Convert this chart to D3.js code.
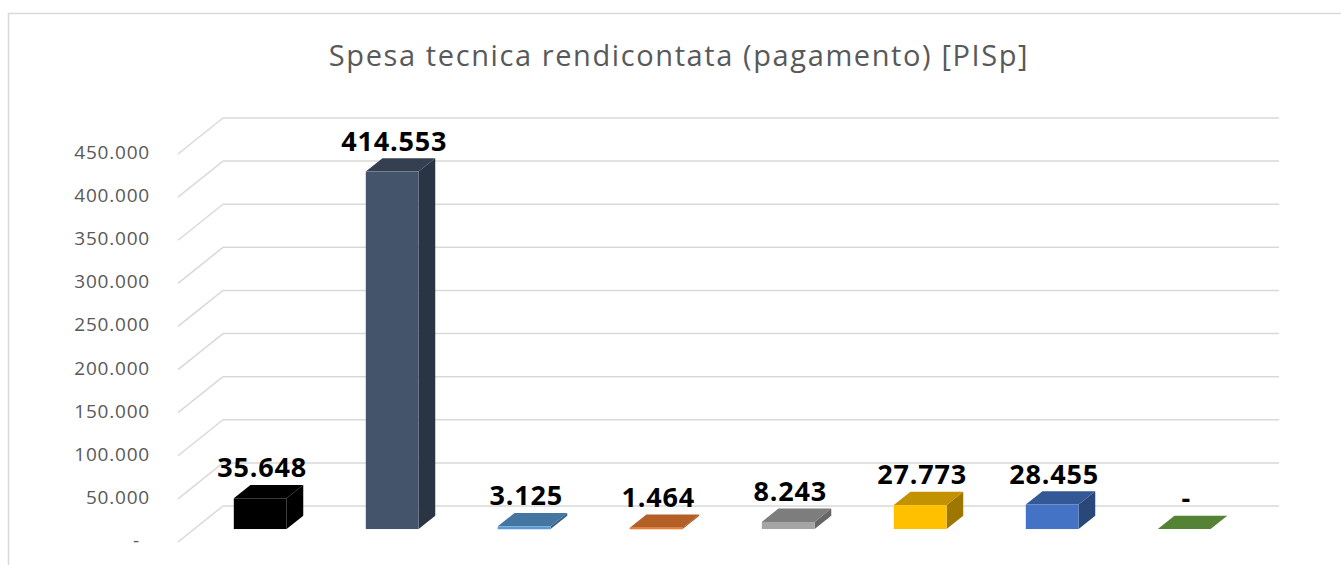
<!DOCTYPE html>
<html>
<head>
<meta charset="utf-8">
<script src="https://cdn.jsdelivr.net/npm/d3@7"></script>
<style>
  html, body { margin: 0; padding: 0; background: #ffffff; }
  svg { display: block; }
</style>
</head>
<body>
<svg id="chart" width="1341" height="565"></svg>
<script>
// Spesa tecnica rendicontata (pagamento) per voce
const categories = ["V1", "V2", "V3", "V4", "V5", "V6", "V7", "V8"];
const values = [35648, 414553, 3125, 1464, 8243, 27773, 28455, 0];
const colors = ["#000000", "#44546A", "#5B9BD5", "#ED7D31", "#A5A5A5", "#FFC000", "#4472C4", "#70AD47"];
const tickValues = [0, 50000, 100000, 150000, 200000, 250000, 300000, 350000, 400000, 450000];
const titleText = "Spesa tecnica rendicontata (pagamento) [PISp]";

const svg = d3.select("#chart");
const W = 1341, H = 565;

// Italian number formatting: thousands with ".", zero shown as "-"
const itLocale = d3.formatLocale({ decimal: ",", thousands: ".", grouping: [3], currency: ["€", ""] });
const fmt = itLocale.format(",.0f");
const fmtVal = v => v === 0 ? "-" : fmt(v);

// Chart frame
svg.append("rect")
  .attr("x", 8.5).attr("y", 13.5)
  .attr("width", W + 20).attr("height", H + 20)
  .attr("fill", "#ffffff")
  .attr("stroke", "#d9d9d9").attr("stroke-width", 1.5);

// Title
svg.append("text")
  .attr("x", 679).attr("y", 66)
  .attr("text-anchor", "middle")
  .attr("font-family", "'Open Sans', sans-serif")
  .attr("font-size", 29)
  .attr("letter-spacing", 1.6)
  .attr("fill", "#595959")
  .text(titleText);

// Oblique 3D projection: back wall plane plus a depth vector towards the viewer
const depth = { dx: -45, dy: 36 };
const backLeft = 223, backRight = 1279;

const y = d3.scaleLinear().domain([0, 450000]).range([506, 118]);
const x = d3.scaleBand().domain(categories)
  .range([backLeft, backRight])
  .paddingInner(0.6).paddingOuter(0.3);

// Bars sit between these depth fractions (0 = back wall, 1 = front edge)
const barBack = 0.27, barFront = 0.64;

const project = (px, py, f) => [px + depth.dx * f, py + depth.dy * f];

// Gridlines: horizontal on back wall, slanted on the left side wall
const grid = svg.append("g").attr("stroke", "#d9d9d9").attr("stroke-width", 1.5).attr("fill", "none");
tickValues.forEach(t => {
  const yb = y(t);
  grid.append("line").attr("x1", backLeft).attr("x2", backRight).attr("y1", yb).attr("y2", yb);
  const [fx, fy] = project(backLeft, yb, 1);
  grid.append("line").attr("x1", backLeft).attr("y1", yb).attr("x2", fx).attr("y2", fy);
});

// Value axis labels on the front edge
const axis = svg.append("g")
  .attr("font-family", "'Open Sans', sans-serif")
  .attr("font-size", 19)
  .attr("fill", "#595959")
  .attr("letter-spacing", 0.8);
tickValues.forEach(t => {
  const [, fy] = project(backLeft, y(t), 1);
  axis.append("text")
    .attr("x", 150).attr("y", fy - 2)
    .attr("dx", t === 0 ? -10 : 0)
    .attr("text-anchor", "end")
    .attr("dominant-baseline", "central")
    .text(fmtVal(t));
});

const shade = (c, k) => {
  const r = d3.rgb(c);
  return d3.rgb(r.r * k, r.g * k, r.b * k).formatHex();
};

// Bars as boxes: front face, top face, right side face
const bars = svg.append("g");
categories.forEach((cat, i) => {
  const v = values[i];
  const c = colors[i];
  const x0 = x(cat), x1 = x(cat) + x.bandwidth();
  const yTop = y(v), yBase = y(0);

  const fBL = project(x0, yBase, barFront), fBR = project(x1, yBase, barFront);
  const fTL = project(x0, yTop, barFront), fTR = project(x1, yTop, barFront);
  const bTL = project(x0, yTop, barBack), bTR = project(x1, yTop, barBack);
  const bBR = project(x1, yBase, barBack);

  const g = bars.append("g");
  // right side
  g.append("path")
    .attr("d", d3.line()([fTR, bTR, bBR, fBR]) + "Z")
    .attr("fill", shade(c, 0.62));
  // top
  g.append("path")
    .attr("d", d3.line()([fTL, bTL, bTR, fTR]) + "Z")
    .attr("fill", shade(c, 0.76));
  // front
  g.append("rect")
    .attr("x", fTL[0]).attr("y", fTL[1])
    .attr("width", fTR[0] - fTL[0])
    .attr("height", Math.max(fBL[1] - fTL[1], 0.01))
    .attr("fill", c);
  if (v > 0 && fBL[1] - fTL[1] < 4) {
    g.append("line")
      .attr("x1", fBL[0]).attr("x2", fBR[0])
      .attr("y1", fBL[1] - 0.5).attr("y2", fBL[1] - 0.5)
      .attr("stroke", c).attr("stroke-width", 1.5);
  }

  // value label
  bars.append("text")
    .attr("x", (fTL[0] + fTR[0]) / 2 + 2)
    .attr("y", fTL[1] - 21)
    .attr("text-anchor", "middle")
    .attr("font-family", "'Open Sans', sans-serif")
    .attr("font-weight", "bold")
    .attr("font-size", 27)
    .attr("letter-spacing", 0.8)
    .attr("fill", "#000000")
    .text(fmtVal(v));
});
</script>
</body>
</html>
